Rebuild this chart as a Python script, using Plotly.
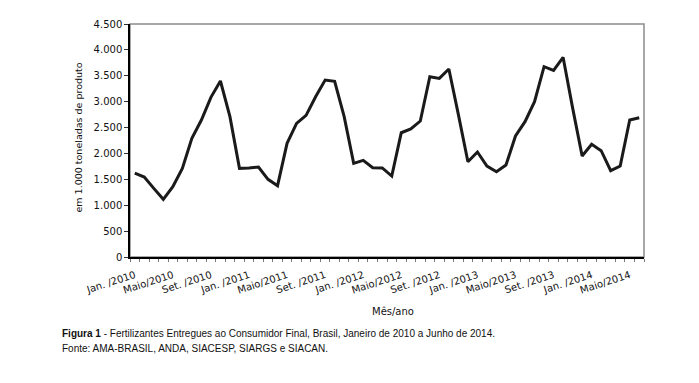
import plotly.graph_objects as go

months = ["Jan. ", "Fev. ", "Mar. ", "Abr. ", "Maio", "Jun. ", "Jul. ", "Ago. ", "Set. ", "Out. ", "Nov. ", "Dez. "]
years = [2010, 2011, 2012, 2013, 2014]
categories = [f"{m}/{y}" for y in years for m in months][:54]

values = [1620, 1545, 1326, 1114, 1358, 1712, 2292, 2645, 3083, 3399, 2710, 1712,
          1720, 1738, 1500, 1377, 2195, 2581, 2736, 3096, 3418, 3392, 2710, 1809,
          1867, 1725, 1720, 1564, 2400, 2472, 2626, 3482, 3450, 3630, 2750, 1841,
          2028, 1757, 1648, 1777, 2337, 2613, 2999, 3675, 3605, 3856, 2880, 1950,
          2176, 2053, 1667, 1757, 2645, 2690]

label_idx = list(range(0, 54, 4))
tick_text = [categories[i] for i in label_idx]
y_ticks = list(range(0, 4501, 500))

font_axes = "DejaVu Sans"
txt = "#111"

fig = go.Figure()
fig.add_trace(go.Scatter(x=list(range(len(values))), y=values, mode="lines",
                         line=dict(color="#1a1a1a", width=3), hoverinfo="skip"))

# page body has an 8px margin, so the figure is shifted by 8px
fig.update_layout(
    width=691, height=375,
    margin=dict(l=122, r=55, t=16, b=126, autoexpand=False),
    paper_bgcolor="white", plot_bgcolor="white",
    separators=",.",
    showlegend=False,
    font=dict(family=font_axes, size=10, color=txt),
    shapes=[dict(type="rect", xref="paper", yref="paper", x0=0, x1=1, y0=0, y1=1,
                 line=dict(color="#8c8c8c", width=1.5), layer="below")],
)
fig.update_xaxes(
    range=[-0.5, 53.5], tickmode="array", tickvals=label_idx, ticktext=tick_text,
    tickangle=-18, ticks="", showgrid=False, zeroline=False,
    showline=True, linecolor="black", linewidth=1.5, ticklabelstandoff=7,
    tickfont=dict(family=font_axes, size=10, color=txt),
    minor=dict(tickmode="linear", tick0=-0.5, dtick=1, ticks="outside",
               ticklen=3, tickcolor="#777", showgrid=False),
)
fig.update_yaxes(
    range=[0, 4500], tickmode="array", tickvals=y_ticks, tickformat=",d",
    ticks="outside", ticklen=4, tickcolor="#333", showgrid=False, zeroline=False,
    showline=True, linecolor="black", linewidth=1.5,
    tickfont=dict(family=font_axes, size=10, color=txt),
)

W = 514.0
H = 233.0
def px(x):
    return (x - 130) / W
def py(y):
    return (257 - y) / H

fig.add_annotation(text="em 1.000 toneladas de produto", textangle=-90,
                   xref="paper", yref="paper", x=px(70), y=py(138),
                   showarrow=False, font=dict(family=font_axes, size=9.5, color=txt))
fig.add_annotation(text="Mês/ano", xref="paper", yref="paper", x=px(393), y=py(319),
                   showarrow=False, font=dict(family=font_axes, size=10, color=txt))
fig.add_annotation(text="<b>Figura 1</b> - Fertilizantes Entregues ao Consumidor Final, Brasil, Janeiro de 2010 a Junho de 2014.",
                   xref="paper", yref="paper", x=px(60), y=py(341), xanchor="left",
                   showarrow=False, font=dict(family="Liberation Sans", size=10, color=txt))
fig.add_annotation(text="Fonte: AMA-BRASIL, ANDA, SIACESP, SIARGS e SIACAN.",
                   xref="paper", yref="paper", x=px(60), y=py(356), xanchor="left",
                   showarrow=False, font=dict(family="Liberation Sans", size=10, color=txt))

fig.write_html("out.html")
